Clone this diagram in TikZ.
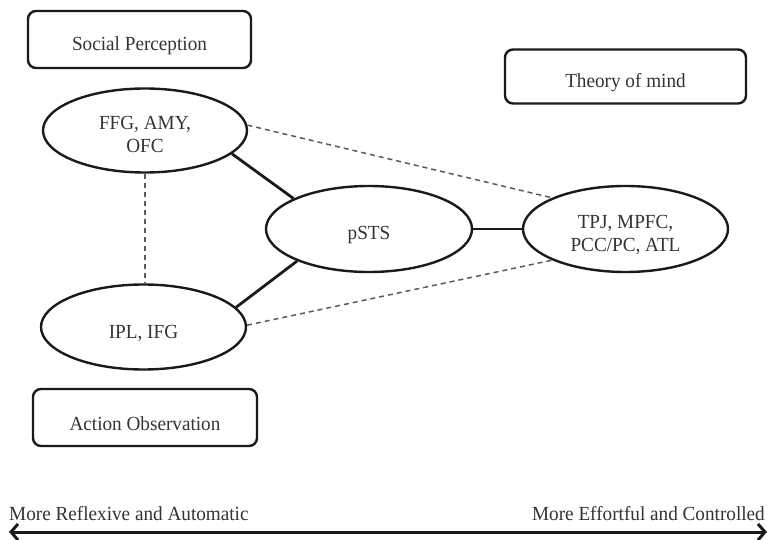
\documentclass[tikz,border=0pt]{standalone}
\usepackage{fontspec}
\setmainfont{Liberation Serif}[FakeStretch=0.96]
\usetikzlibrary{arrows.meta,shapes.geometric}
\newcommand{\txtdown}[1]{\raisebox{-6pt}[\height][\depth]{#1}}
\definecolor{inkline}{HTML}{1A1A1A}
\definecolor{inktext}{HTML}{333333}
\definecolor{inkdash}{HTML}{5A5A5A}
\begin{document}
\begin{tikzpicture}[x=1pt,y=-1pt,
  lbl/.style={font=\fontsize{20}{23}\selectfont, text=inktext},
  areabox/.style={lbl, draw=inkline, line width=2.4pt, rounded corners=8pt, inner sep=0pt},
  region/.style={lbl, ellipse, draw=inkline, line width=2.4pt, inner sep=0pt, align=center},
  strong/.style={draw=inkline, line width=2.8pt},
  weak/.style={draw=inkdash, line width=1.5pt, dash pattern=on 5pt off 4pt},
  axis/.style={draw=inkline, line width=3pt, {Straight Barb[length=7pt,width=16pt]}-{Straight Barb[length=7pt,width=16pt]}}
]
\useasboundingbox (0,0) rectangle (771,540);

% category boxes
\node[areabox, minimum width=223pt, minimum height=57pt] (sp) at (139.5,39.5) {\txtdown{Social Perception}};
\node[areabox, minimum width=241pt, minimum height=54pt] (tom) at (625.5,76.5) {\txtdown{Theory of mind}};
\node[areabox, minimum width=224pt, minimum height=57pt] (ao) at (145,417.5) {\txtdown{Action Observation}};

% regions
\node[region, minimum width=204pt, minimum height=84pt] (ffg) at (145,130.5)
  {\txtdown{\begin{tabular}{@{}c@{}}FFG, AMY,\\OFC\end{tabular}}};
\node[region, minimum width=206pt, minimum height=86pt] (psts) at (369,229) {\txtdown{pSTS}};
\node[region, minimum width=205pt, minimum height=85pt] (ipl) at (143.5,327) {\txtdown{IPL, IFG}};
\node[region, minimum width=205pt, minimum height=86pt] (tpj) at (625.5,229)
  {\txtdown{\begin{tabular}{@{}c@{}}TPJ, MPFC,\\PCC/PC, ATL\end{tabular}}};

% strong connections
\draw[strong] (ffg.-15) -- (psts.158);
\draw[strong] (ipl.12) -- (psts.204);
\draw[strong] (psts.east) -- (tpj.west);

% weak connections
\draw[weak] (ffg.3) -- (tpj.157);
\draw[weak] (ipl.1) -- (tpj.203);
\draw[weak] (ffg.south) -- (ffg.south |- ipl.north);

% axis
\coordinate (axL) at (9,532);
\coordinate (axR) at (767,532);
\draw[axis] (axL) -- (axR);
\node[lbl, anchor=base west, inner sep=0pt] (lefttxt) at (9,520) {More Reflexive and Automatic};
\node[lbl, anchor=base east, inner sep=0pt] (righttxt) at (765,520) {More Effortful and Controlled};
\end{tikzpicture}
\end{document}
